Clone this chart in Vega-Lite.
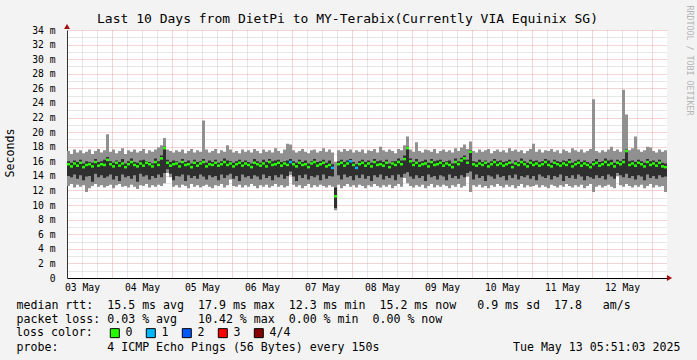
{
"$schema": "https://vega.github.io/schema/vega-lite/v6.json",
"width": 600, "height": 248,
"autosize": {"type": "none"},
"padding": {"left": 67, "top": 30, "right": 30, "bottom": 82},
"background": "#f3f3f3",
"config": {
 "font": "DejaVu Sans Mono",
 "view": {"fill": "#ffffff", "stroke": null},
 "axis": {"labelFontSize": 9.7, "labelColor": "#000000", "titleFontSize": 11.6, "titleFontWeight": "normal", "titleColor": "#000000", "ticks": false, "labelFlush": false, "labelOverlap": false, "labelBound": false}
},
"title": {"text": "Last 10 Days from DietPi to MY-Terabix(Currently VIA Equinix SG)", "font": "DejaVu Sans Mono", "fontSize": 13, "fontWeight": "normal", "color": "#000000", "anchor": "middle", "frame": "group", "dx": -19.5, "dy": 25, "offset": 4},
"data": {"values": [
{"i":0,"lo":12.6,"dl":14.0,"m":15.6,"dh":16.0,"hi":17.4,"c":"0"},
{"i":1,"lo":12.9,"dl":13.8,"m":15.3,"dh":15.8,"hi":17.0,"c":"0"},
{"i":2,"lo":12.4,"dl":14.2,"m":15.7,"dh":16.1,"hi":17.6,"c":"0"},
{"i":3,"lo":12.8,"dl":13.6,"m":15.4,"dh":15.9,"hi":17.2,"c":"0"},
{"i":4,"lo":12.5,"dl":14.1,"m":15.8,"dh":16.2,"hi":17.5,"c":"0"},
{"i":5,"lo":12.7,"dl":13.4,"m":15.2,"dh":15.7,"hi":17.1,"c":"0"},
{"i":6,"lo":11.8,"dl":13.9,"m":15.5,"dh":16.0,"hi":17.3,"c":"0"},
{"i":7,"lo":12.3,"dl":14.0,"m":15.6,"dh":15.9,"hi":17.6,"c":"0"},
{"i":8,"lo":12.6,"dl":13.2,"m":15.3,"dh":15.8,"hi":17.0,"c":"0"},
{"i":9,"lo":12.9,"dl":14.3,"m":15.9,"dh":16.3,"hi":17.4,"c":"0"},
{"i":10,"lo":12.5,"dl":13.8,"m":15.4,"dh":15.9,"hi":17.7,"c":"0"},
{"i":11,"lo":12.7,"dl":14.1,"m":15.6,"dh":16.0,"hi":17.2,"c":"0"},
{"i":12,"lo":12.4,"dl":13.7,"m":15.5,"dh":16.2,"hi":17.5,"c":"0"},
{"i":13,"lo":12.6,"dl":13.9,"m":16.2,"dh":16.6,"hi":19.7,"c":"0"},
{"i":14,"lo":12.8,"dl":14.2,"m":15.6,"dh":16.0,"hi":17.3,"c":"0"},
{"i":15,"lo":12.3,"dl":13.5,"m":15.3,"dh":15.8,"hi":17.6,"c":"0"},
{"i":16,"lo":12.7,"dl":14.0,"m":15.8,"dh":16.1,"hi":17.1,"c":"0"},
{"i":17,"lo":12.9,"dl":13.3,"m":15.4,"dh":15.9,"hi":17.4,"c":"0"},
{"i":18,"lo":12.5,"dl":14.2,"m":15.7,"dh":16.3,"hi":17.8,"c":"0"},
{"i":19,"lo":12.6,"dl":13.8,"m":15.2,"dh":15.7,"hi":17.0,"c":"0"},
{"i":20,"lo":12.4,"dl":14.0,"m":15.6,"dh":16.0,"hi":17.5,"c":"0"},
{"i":21,"lo":12.8,"dl":13.6,"m":15.9,"dh":16.4,"hi":17.3,"c":"0"},
{"i":22,"lo":12.5,"dl":14.1,"m":15.5,"dh":15.9,"hi":17.6,"c":"0"},
{"i":23,"lo":12.2,"dl":13.2,"m":15.3,"dh":15.8,"hi":17.2,"c":"0"},
{"i":24,"lo":12.7,"dl":14.3,"m":15.7,"dh":16.1,"hi":17.4,"c":"0"},
{"i":25,"lo":12.6,"dl":13.9,"m":15.4,"dh":16.2,"hi":17.7,"c":"0"},
{"i":26,"lo":12.9,"dl":14.1,"m":15.8,"dh":16.0,"hi":17.1,"c":"0"},
{"i":27,"lo":12.4,"dl":13.5,"m":15.6,"dh":15.9,"hi":17.5,"c":"0"},
{"i":28,"lo":12.7,"dl":14.0,"m":15.3,"dh":15.7,"hi":17.3,"c":"0"},
{"i":29,"lo":12.5,"dl":13.7,"m":15.9,"dh":16.4,"hi":17.6,"c":"0"},
{"i":30,"lo":12.8,"dl":14.2,"m":15.5,"dh":16.0,"hi":17.9,"c":"0"},
{"i":31,"lo":12.6,"dl":13.8,"m":16.4,"dh":16.8,"hi":18.2,"c":"0"},
{"i":32,"lo":13.0,"dl":14.4,"m":17.8,"dh":18.0,"hi":19.2,"c":"0"},
{"i":33,"lo":14.4,"dl":14.9,"m":15.8,"dh":16.2,"hi":17.6,"c":"0"},
{"i":34,"lo":13.8,"dl":14.3,"m":15.4,"dh":15.9,"hi":17.4,"c":"0"},
{"i":35,"lo":12.5,"dl":13.4,"m":15.6,"dh":16.1,"hi":17.2,"c":"0"},
{"i":36,"lo":12.7,"dl":14.0,"m":15.7,"dh":16.0,"hi":17.5,"c":"0"},
{"i":37,"lo":12.4,"dl":13.9,"m":15.3,"dh":15.8,"hi":17.3,"c":"0"},
{"i":38,"lo":12.8,"dl":14.2,"m":15.9,"dh":16.3,"hi":17.6,"c":"0"},
{"i":39,"lo":12.6,"dl":13.3,"m":15.5,"dh":15.9,"hi":17.1,"c":"0"},
{"i":40,"lo":12.3,"dl":14.1,"m":15.6,"dh":16.1,"hi":17.4,"c":"0"},
{"i":41,"lo":12.9,"dl":13.7,"m":15.2,"dh":15.7,"hi":17.7,"c":"0"},
{"i":42,"lo":12.5,"dl":14.0,"m":15.8,"dh":16.2,"hi":17.2,"c":"0"},
{"i":43,"lo":12.7,"dl":13.6,"m":15.4,"dh":15.9,"hi":17.5,"c":"0"},
{"i":44,"lo":12.4,"dl":14.2,"m":15.7,"dh":16.0,"hi":17.3,"c":"0"},
{"i":45,"lo":12.6,"dl":13.9,"m":15.9,"dh":16.3,"hi":21.6,"c":"0"},
{"i":46,"lo":12.8,"dl":13.5,"m":15.3,"dh":15.8,"hi":17.6,"c":"0"},
{"i":47,"lo":12.5,"dl":14.1,"m":15.6,"dh":16.1,"hi":17.2,"c":"0"},
{"i":48,"lo":12.3,"dl":13.8,"m":15.5,"dh":15.9,"hi":17.4,"c":"0"},
{"i":49,"lo":12.7,"dl":14.0,"m":15.8,"dh":16.2,"hi":17.7,"c":"0"},
{"i":50,"lo":12.6,"dl":13.4,"m":15.4,"dh":15.8,"hi":17.1,"c":"0"},
{"i":51,"lo":12.9,"dl":14.2,"m":15.6,"dh":16.0,"hi":17.5,"c":"0"},
{"i":52,"lo":12.4,"dl":13.7,"m":15.9,"dh":16.4,"hi":17.3,"c":"0"},
{"i":53,"lo":12.7,"dl":14.1,"m":15.5,"dh":16.1,"hi":18.2,"c":"0"},
{"i":54,"lo":13.5,"dl":14.3,"m":15.7,"dh":16.0,"hi":17.6,"c":"0"},
{"i":55,"lo":12.6,"dl":13.6,"m":15.3,"dh":15.8,"hi":17.2,"c":"0"},
{"i":56,"lo":12.5,"dl":14.0,"m":15.6,"dh":16.0,"hi":17.4,"c":"0"},
{"i":57,"lo":12.8,"dl":13.3,"m":15.8,"dh":16.2,"hi":17.1,"c":"0"},
{"i":58,"lo":12.4,"dl":14.2,"m":15.4,"dh":15.9,"hi":17.6,"c":"0"},
{"i":59,"lo":12.7,"dl":13.8,"m":15.7,"dh":16.1,"hi":17.3,"c":"0"},
{"i":60,"lo":12.5,"dl":14.0,"m":15.5,"dh":15.9,"hi":17.5,"c":"0"},
{"i":61,"lo":12.9,"dl":13.6,"m":15.2,"dh":15.7,"hi":17.2,"c":"0"},
{"i":62,"lo":12.6,"dl":14.1,"m":15.8,"dh":16.3,"hi":17.7,"c":"0"},
{"i":63,"lo":12.3,"dl":13.9,"m":15.6,"dh":16.0,"hi":17.4,"c":"0"},
{"i":64,"lo":12.7,"dl":13.5,"m":15.4,"dh":15.8,"hi":17.1,"c":"0"},
{"i":65,"lo":12.5,"dl":14.2,"m":15.7,"dh":16.2,"hi":17.6,"c":"0"},
{"i":66,"lo":12.8,"dl":13.7,"m":15.3,"dh":15.9,"hi":17.3,"c":"0"},
{"i":67,"lo":12.4,"dl":14.0,"m":15.9,"dh":16.3,"hi":17.5,"c":"0"},
{"i":68,"lo":12.6,"dl":13.4,"m":15.5,"dh":16.0,"hi":17.2,"c":"0"},
{"i":69,"lo":12.9,"dl":14.1,"m":15.6,"dh":16.1,"hi":17.8,"c":"0"},
{"i":70,"lo":12.5,"dl":13.8,"m":15.8,"dh":16.2,"hi":17.4,"c":"0"},
{"i":71,"lo":12.7,"dl":14.2,"m":15.4,"dh":15.9,"hi":17.1,"c":"0"},
{"i":72,"lo":12.4,"dl":13.6,"m":15.7,"dh":16.0,"hi":17.6,"c":"0"},
{"i":73,"lo":12.6,"dl":14.0,"m":15.5,"dh":16.1,"hi":18.4,"c":"0"},
{"i":74,"lo":14.1,"dl":14.6,"m":15.9,"dh":16.3,"hi":18.3,"c":"1"},
{"i":75,"lo":12.8,"dl":13.9,"m":15.6,"dh":16.0,"hi":17.5,"c":"0"},
{"i":76,"lo":12.5,"dl":13.3,"m":15.3,"dh":15.8,"hi":17.2,"c":"0"},
{"i":77,"lo":12.7,"dl":14.1,"m":15.8,"dh":16.2,"hi":17.4,"c":"0"},
{"i":78,"lo":12.3,"dl":13.7,"m":15.5,"dh":15.9,"hi":17.7,"c":"0"},
{"i":79,"lo":12.6,"dl":14.2,"m":15.6,"dh":16.1,"hi":17.3,"c":"0"},
{"i":80,"lo":12.9,"dl":13.5,"m":15.2,"dh":15.7,"hi":17.1,"c":"0"},
{"i":81,"lo":12.4,"dl":14.0,"m":15.7,"dh":16.0,"hi":17.5,"c":"0"},
{"i":82,"lo":12.7,"dl":13.8,"m":15.9,"dh":16.3,"hi":17.6,"c":"0"},
{"i":83,"lo":12.5,"dl":14.1,"m":15.4,"dh":15.9,"hi":17.2,"c":"0"},
{"i":84,"lo":12.8,"dl":13.4,"m":15.6,"dh":16.0,"hi":17.4,"c":"0"},
{"i":85,"lo":12.6,"dl":14.2,"m":15.8,"dh":16.2,"hi":17.8,"c":"0"},
{"i":86,"lo":12.4,"dl":13.6,"m":15.3,"dh":15.8,"hi":17.3,"c":"0"},
{"i":87,"lo":12.7,"dl":14.0,"m":15.5,"dh":16.1,"hi":17.6,"c":"0"},
{"i":88,"lo":12.5,"dl":13.9,"m":15.1,"dh":15.6,"hi":17.2,"c":"1"},
{"i":89,"lo":9.3,"dl":9.6,"m":11.2,"dh":12.4,"hi":15.9,"c":"0"},
{"i":90,"lo":12.8,"dl":14.1,"m":15.6,"dh":16.0,"hi":17.5,"c":"0"},
{"i":91,"lo":12.3,"dl":13.5,"m":15.8,"dh":16.2,"hi":17.3,"c":"0"},
{"i":92,"lo":12.6,"dl":14.2,"m":15.4,"dh":15.9,"hi":17.7,"c":"0"},
{"i":93,"lo":12.9,"dl":13.8,"m":15.7,"dh":16.1,"hi":17.4,"c":"0"},
{"i":94,"lo":12.5,"dl":14.0,"m":16.0,"dh":16.3,"hi":17.6,"c":"1"},
{"i":95,"lo":12.7,"dl":13.4,"m":15.5,"dh":15.9,"hi":17.2,"c":"0"},
{"i":96,"lo":12.4,"dl":14.1,"m":15.1,"dh":15.6,"hi":17.5,"c":"1"},
{"i":97,"lo":12.8,"dl":13.7,"m":15.6,"dh":16.0,"hi":17.3,"c":"0"},
{"i":98,"lo":12.6,"dl":14.2,"m":15.8,"dh":16.2,"hi":17.6,"c":"0"},
{"i":99,"lo":12.3,"dl":13.6,"m":15.4,"dh":15.9,"hi":17.1,"c":"0"},
{"i":100,"lo":12.7,"dl":14.0,"m":15.7,"dh":16.1,"hi":17.5,"c":"0"},
{"i":101,"lo":12.5,"dl":13.3,"m":15.3,"dh":15.8,"hi":17.4,"c":"0"},
{"i":102,"lo":12.9,"dl":14.1,"m":15.9,"dh":16.3,"hi":17.7,"c":"0"},
{"i":103,"lo":12.6,"dl":13.8,"m":15.5,"dh":16.0,"hi":17.2,"c":"0"},
{"i":104,"lo":12.4,"dl":14.2,"m":15.6,"dh":16.1,"hi":18.0,"c":"0"},
{"i":105,"lo":12.7,"dl":13.5,"m":15.4,"dh":15.9,"hi":17.5,"c":"0"},
{"i":106,"lo":12.5,"dl":14.0,"m":15.8,"dh":16.2,"hi":17.3,"c":"0"},
{"i":107,"lo":12.8,"dl":13.7,"m":15.2,"dh":15.7,"hi":17.6,"c":"0"},
{"i":108,"lo":12.3,"dl":14.1,"m":15.7,"dh":16.0,"hi":17.4,"c":"0"},
{"i":109,"lo":12.6,"dl":13.4,"m":15.5,"dh":16.0,"hi":17.1,"c":"0"},
{"i":110,"lo":12.9,"dl":14.2,"m":15.9,"dh":16.4,"hi":17.7,"c":"0"},
{"i":111,"lo":12.5,"dl":13.8,"m":15.6,"dh":16.1,"hi":17.5,"c":"0"},
{"i":112,"lo":13.7,"dl":14.3,"m":16.3,"dh":16.8,"hi":18.2,"c":"0"},
{"i":113,"lo":13.0,"dl":14.5,"m":17.8,"dh":18.0,"hi":19.4,"c":"0"},
{"i":114,"lo":12.6,"dl":13.9,"m":16.0,"dh":16.4,"hi":17.6,"c":"0"},
{"i":115,"lo":12.4,"dl":13.6,"m":15.5,"dh":15.9,"hi":17.3,"c":"0"},
{"i":116,"lo":12.7,"dl":14.1,"m":15.8,"dh":16.3,"hi":18.6,"c":"0"},
{"i":117,"lo":12.5,"dl":13.7,"m":15.4,"dh":15.9,"hi":17.4,"c":"0"},
{"i":118,"lo":12.8,"dl":14.0,"m":15.6,"dh":16.0,"hi":17.2,"c":"0"},
{"i":119,"lo":12.3,"dl":13.3,"m":15.7,"dh":16.2,"hi":17.6,"c":"0"},
{"i":120,"lo":12.6,"dl":14.2,"m":15.3,"dh":15.8,"hi":17.5,"c":"0"},
{"i":121,"lo":12.9,"dl":13.8,"m":15.9,"dh":16.3,"hi":17.3,"c":"0"},
{"i":122,"lo":12.4,"dl":14.0,"m":15.5,"dh":16.0,"hi":17.7,"c":"0"},
{"i":123,"lo":12.7,"dl":13.5,"m":15.6,"dh":16.1,"hi":17.1,"c":"0"},
{"i":124,"lo":12.5,"dl":14.1,"m":15.8,"dh":16.2,"hi":17.4,"c":"0"},
{"i":125,"lo":12.8,"dl":13.9,"m":15.4,"dh":15.9,"hi":17.6,"c":"0"},
{"i":126,"lo":12.6,"dl":13.4,"m":15.7,"dh":16.0,"hi":17.3,"c":"0"},
{"i":127,"lo":12.3,"dl":14.2,"m":15.5,"dh":16.1,"hi":17.5,"c":"0"},
{"i":128,"lo":12.7,"dl":13.7,"m":15.2,"dh":15.7,"hi":17.2,"c":"0"},
{"i":129,"lo":12.5,"dl":14.0,"m":15.9,"dh":16.4,"hi":17.8,"c":"0"},
{"i":130,"lo":12.9,"dl":13.6,"m":15.6,"dh":16.0,"hi":17.4,"c":"0"},
{"i":131,"lo":12.4,"dl":14.1,"m":16.1,"dh":16.5,"hi":17.9,"c":"0"},
{"i":132,"lo":12.6,"dl":13.8,"m":16.4,"dh":16.8,"hi":18.3,"c":"0"},
{"i":133,"lo":13.9,"dl":14.4,"m":15.8,"dh":16.2,"hi":17.7,"c":"0"},
{"i":134,"lo":11.8,"dl":14.6,"m":17.3,"dh":17.5,"hi":18.7,"c":"0"},
{"i":135,"lo":12.7,"dl":13.5,"m":15.6,"dh":16.0,"hi":17.4,"c":"0"},
{"i":136,"lo":12.5,"dl":14.2,"m":15.4,"dh":15.9,"hi":17.2,"c":"0"},
{"i":137,"lo":12.8,"dl":13.7,"m":15.7,"dh":16.2,"hi":17.6,"c":"0"},
{"i":138,"lo":12.4,"dl":14.0,"m":15.5,"dh":15.9,"hi":17.3,"c":"0"},
{"i":139,"lo":12.6,"dl":13.3,"m":15.8,"dh":16.1,"hi":17.5,"c":"0"},
{"i":140,"lo":12.3,"dl":14.1,"m":15.3,"dh":15.8,"hi":17.7,"c":"0"},
{"i":141,"lo":12.7,"dl":13.9,"m":15.6,"dh":16.0,"hi":17.1,"c":"0"},
{"i":142,"lo":12.5,"dl":13.6,"m":15.9,"dh":16.3,"hi":17.4,"c":"0"},
{"i":143,"lo":12.9,"dl":14.2,"m":15.5,"dh":16.0,"hi":17.6,"c":"0"},
{"i":144,"lo":12.6,"dl":13.8,"m":15.7,"dh":16.1,"hi":17.3,"c":"0"},
{"i":145,"lo":12.4,"dl":14.0,"m":15.4,"dh":15.9,"hi":17.5,"c":"0"},
{"i":146,"lo":12.8,"dl":13.4,"m":15.6,"dh":16.0,"hi":17.2,"c":"0"},
{"i":147,"lo":12.5,"dl":14.1,"m":15.8,"dh":16.2,"hi":17.8,"c":"0"},
{"i":148,"lo":12.7,"dl":13.7,"m":15.2,"dh":15.7,"hi":17.4,"c":"0"},
{"i":149,"lo":12.3,"dl":14.2,"m":15.7,"dh":16.1,"hi":17.6,"c":"0"},
{"i":150,"lo":12.6,"dl":13.5,"m":15.5,"dh":15.9,"hi":17.3,"c":"0"},
{"i":151,"lo":12.9,"dl":14.0,"m":15.9,"dh":16.4,"hi":17.5,"c":"0"},
{"i":152,"lo":12.4,"dl":13.8,"m":15.6,"dh":16.0,"hi":17.1,"c":"0"},
{"i":153,"lo":12.7,"dl":14.1,"m":15.3,"dh":15.8,"hi":17.4,"c":"0"},
{"i":154,"lo":12.5,"dl":13.6,"m":15.8,"dh":16.2,"hi":17.7,"c":"0"},
{"i":155,"lo":12.6,"dl":14.0,"m":15.5,"dh":16.0,"hi":18.4,"c":"0"},
{"i":156,"lo":12.8,"dl":13.4,"m":15.7,"dh":16.1,"hi":17.3,"c":"0"},
{"i":157,"lo":12.4,"dl":14.2,"m":15.4,"dh":15.9,"hi":17.6,"c":"0"},
{"i":158,"lo":12.7,"dl":13.9,"m":15.6,"dh":16.0,"hi":17.2,"c":"0"},
{"i":159,"lo":12.5,"dl":13.7,"m":15.9,"dh":16.3,"hi":17.5,"c":"0"},
{"i":160,"lo":12.3,"dl":14.1,"m":15.5,"dh":16.1,"hi":17.4,"c":"0"},
{"i":161,"lo":12.8,"dl":13.5,"m":15.3,"dh":15.8,"hi":17.7,"c":"0"},
{"i":162,"lo":12.6,"dl":14.0,"m":15.8,"dh":16.2,"hi":17.3,"c":"0"},
{"i":163,"lo":12.4,"dl":13.8,"m":15.6,"dh":16.0,"hi":17.5,"c":"0"},
{"i":164,"lo":12.7,"dl":14.2,"m":15.4,"dh":15.9,"hi":17.1,"c":"0"},
{"i":165,"lo":12.5,"dl":13.3,"m":15.7,"dh":16.1,"hi":17.6,"c":"0"},
{"i":166,"lo":12.9,"dl":14.0,"m":15.5,"dh":16.0,"hi":17.4,"c":"0"},
{"i":167,"lo":12.6,"dl":13.7,"m":15.9,"dh":16.3,"hi":17.2,"c":"0"},
{"i":168,"lo":12.4,"dl":14.1,"m":15.3,"dh":15.8,"hi":17.8,"c":"0"},
{"i":169,"lo":12.7,"dl":13.6,"m":15.6,"dh":16.0,"hi":17.5,"c":"0"},
{"i":170,"lo":12.5,"dl":14.2,"m":15.8,"dh":16.2,"hi":17.3,"c":"0"},
{"i":171,"lo":12.8,"dl":13.9,"m":15.4,"dh":15.9,"hi":17.6,"c":"0"},
{"i":172,"lo":12.3,"dl":13.4,"m":15.7,"dh":16.1,"hi":17.2,"c":"0"},
{"i":173,"lo":12.6,"dl":14.0,"m":15.5,"dh":15.9,"hi":17.4,"c":"0"},
{"i":174,"lo":12.9,"dl":13.8,"m":15.2,"dh":15.7,"hi":17.7,"c":"0"},
{"i":175,"lo":11.8,"dl":13.6,"m":15.6,"dh":16.0,"hi":24.5,"c":"0"},
{"i":176,"lo":12.5,"dl":14.1,"m":15.8,"dh":16.3,"hi":17.4,"c":"0"},
{"i":177,"lo":12.7,"dl":13.7,"m":15.4,"dh":15.9,"hi":17.2,"c":"0"},
{"i":178,"lo":12.4,"dl":14.0,"m":15.6,"dh":16.0,"hi":17.5,"c":"0"},
{"i":179,"lo":12.6,"dl":13.5,"m":15.9,"dh":16.4,"hi":17.3,"c":"0"},
{"i":180,"lo":12.8,"dl":14.2,"m":15.5,"dh":16.1,"hi":17.6,"c":"0"},
{"i":181,"lo":12.5,"dl":13.9,"m":15.7,"dh":16.2,"hi":18.0,"c":"0"},
{"i":182,"lo":12.3,"dl":13.6,"m":15.3,"dh":15.8,"hi":17.4,"c":"0"},
{"i":183,"lo":14.0,"dl":14.4,"m":15.8,"dh":16.2,"hi":17.6,"c":"0"},
{"i":184,"lo":12.7,"dl":14.1,"m":15.6,"dh":16.0,"hi":17.3,"c":"0"},
{"i":185,"lo":12.5,"dl":13.8,"m":15.9,"dh":16.3,"hi":25.8,"c":"0"},
{"i":186,"lo":12.9,"dl":14.3,"m":17.4,"dh":17.6,"hi":22.4,"c":"0"},
{"i":187,"lo":12.6,"dl":13.7,"m":15.5,"dh":16.0,"hi":17.5,"c":"0"},
{"i":188,"lo":12.4,"dl":14.0,"m":15.7,"dh":16.1,"hi":17.8,"c":"0"},
{"i":189,"lo":12.7,"dl":13.5,"m":15.4,"dh":15.9,"hi":19.4,"c":"0"},
{"i":190,"lo":12.5,"dl":14.1,"m":15.8,"dh":16.2,"hi":17.6,"c":"0"},
{"i":191,"lo":12.8,"dl":13.9,"m":15.6,"dh":16.0,"hi":17.3,"c":"0"},
{"i":192,"lo":12.3,"dl":13.4,"m":15.3,"dh":15.8,"hi":17.5,"c":"0"},
{"i":193,"lo":12.6,"dl":14.2,"m":15.9,"dh":16.3,"hi":18.0,"c":"0"},
{"i":194,"lo":12.9,"dl":13.7,"m":15.5,"dh":16.0,"hi":17.9,"c":"0"},
{"i":195,"lo":12.4,"dl":14.0,"m":15.7,"dh":16.1,"hi":17.4,"c":"0"},
{"i":196,"lo":12.7,"dl":13.6,"m":15.4,"dh":15.9,"hi":17.2,"c":"0"},
{"i":197,"lo":12.5,"dl":14.1,"m":15.8,"dh":16.2,"hi":17.6,"c":"0"},
{"i":198,"lo":12.6,"dl":13.8,"m":15.3,"dh":15.8,"hi":17.3,"c":"0"},
{"i":199,"lo":11.8,"dl":13.9,"m":15.2,"dh":15.7,"hi":17.5,"c":"0"},
{"i":200,"lo":11.8,"dl":13.9,"m":15.2,"dh":15.7,"hi":17.5,"c":"0"}
]},
"layer": [
 {
  "mark": {"type": "area", "interpolate": "step-after", "color": "#909090"},
  "encoding": {
   "x": {"field": "i", "type": "quantitative", "scale": {"domain": [0, 200], "nice": false, "zero": false},
    "axis": {"orient": "bottom", "values": [5,10,20,25,30,40,45,50,60,65,70,80,85,90,100,105,110,120,125,130,140,145,150,160,165,170,180,185,190], "labels": false, "domain": false, "grid": true, "gridColor": "#cfcfcf", "gridDash": [1, 1], "gridWidth": 1,
     "title": "Tue May 13 05:51:03 2025", "titleX": 613, "titleY": 72, "titleAlign": "right", "titleBaseline": "alphabetic"}},
   "y": {"field": "lo", "type": "quantitative", "scale": {"domain": [0, 34], "nice": false},
    "axis": {"orient": "left", "values": [1,3,5,7,9,11,13,15,17,19,21,23,25,27,29,31,33], "labels": false, "domain": false, "grid": true, "gridColor": "#cfcfcf", "gridDash": [1, 1], "title": null}},
   "y2": {"field": "hi"}
  }
 },
 {
  "mark": {"type": "area", "interpolate": "step-after", "color": "#2f2f2f"},
  "encoding": {
   "x": {"field": "i", "type": "quantitative", "scale": {"domain": [0, 200], "nice": false, "zero": false},
    "axis": {"orient": "bottom", "values": [15,35,55,75,95,115,135,155,175,195], "labels": false, "domain": false, "grid": true, "gridColor": "#d04040", "gridOpacity": 0.45, "gridDash": [1, 1],
     "title": "probe: \u00a0\u00a0\u00a0\u00a0\u00a0\u00a04 ICMP Echo Pings (56 Bytes) every 150s", "titleX": -51, "titleY": 72, "titleAlign": "left", "titleBaseline": "alphabetic"}},
   "y": {"field": "dl", "type": "quantitative", "scale": {"domain": [0, 34], "nice": false},
    "axis": {"orient": "right", "labels": false, "domain": false, "grid": false,
     "title": "RRDTOOL / TOBI OETIKER", "titleAngle": 90, "titleX": 21.5, "titleY": -25, "titleAlign": "left", "titleBaseline": "middle", "titleFontSize": 8.3, "titleColor": "#b4b4b4"}},
   "y2": {"field": "dh"}
  }
 },
 {
  "mark": {"type": "tick", "orient": "horizontal", "size": 3, "thickness": 2.5, "xOffset": 1.5, "opacity": 1, "clip": true},
  "encoding": {
   "x": {"field": "i", "type": "quantitative", "scale": {"domain": [0, 200], "nice": false, "zero": false},
    "axis": {"orient": "bottom", "values": [5,25,45,65,85,105,125,145,165,185], "labelExpr": "timeFormat(time(datetime(2025, 4, 3, 5, 51, 3)) + datum.value * 4320000, '%d %b')", "labelPadding": 4, "domain": true, "domainColor": "#000000", "grid": false,
     "title": ["median rtt: \u00a015.5 ms avg \u00a017.9 ms max \u00a012.3 ms min \u00a015.2 ms now \u00a0\u00a00.9 ms sd \u00a017.8 \u00a0\u00a0am/s", "packet loss: 0.03 % avg \u00a0\u00a010.42 % max \u00a00.00 % min \u00a00.00 % now"],
     "titleX": -51, "titleY": 30.3, "titleAlign": "left", "titleBaseline": "alphabetic", "titleLineHeight": 14}},
   "y": {"field": "m", "type": "quantitative", "scale": {"domain": [0, 34], "nice": false},
    "axis": {"orient": "left", "values": [0,2,4,6,8,10,12,14,16,18,20,22,24,26,28,30,32,34], "labelExpr": "datum.value == 0 ? '0\u00a0' : datum.value + ' m'", "labelPadding": 12, "domain": true, "domainColor": "#333333", "grid": true,
     "gridColor": {"condition": {"test": "datum.value == 0", "value": "transparent"}, "value": "#d04040"}, "gridOpacity": 0.45, "gridDash": [1, 1],
     "title": "Seconds", "titleAngle": 270, "titleX": -56.5, "titleY": 122.5, "titleAlign": "center", "titleBaseline": "middle"}},
   "color": {"field": "c", "type": "nominal",
    "scale": {"domain": ["0", "1", "2", "3", "4/4"], "range": ["#26ff00", "#00b8ff", "#0059ff", "#ff0000", "#860000"]},
    "legend": {"title": "loss color:", "orient": "none", "legendX": -51, "legendY": 297, "direction": "horizontal", "columns": 5, "titleOrient": "left", "symbolType": "square", "symbolSize": 81, "symbolStrokeColor": "#000000", "symbolStrokeWidth": 1, "symbolOpacity": 1, "labelFont": "DejaVu Sans Mono", "labelFontSize": 11.6, "labelColor": "#000000", "labelOffset": 5, "columnPadding": 11, "titleFont": "DejaVu Sans Mono", "titleFontSize": 11.6, "titleFontWeight": "normal", "titleColor": "#000000", "titlePadding": 16, "padding": 0}}
  }
 },
 {
  "data": {"values": [{}]},
  "mark": {"type": "point", "shape": "triangle-up", "filled": true, "color": "#a01010", "size": 36, "opacity": 1, "yOffset": -3.5},
  "encoding": {
   "x": {"datum": 0, "type": "quantitative", "axis": null},
   "y": {"datum": 34, "type": "quantitative", "axis": null}
  }
 },
 {
  "data": {"values": [{}]},
  "mark": {"type": "point", "shape": "triangle-right", "filled": true, "color": "#a01010", "size": 36, "opacity": 1, "xOffset": 2.5},
  "encoding": {
   "x": {"datum": 200, "type": "quantitative", "axis": null},
   "y": {"datum": 0, "type": "quantitative", "axis": null}
  }
 }
],
"resolve": {"axis": {"x": "independent", "y": "independent"}}
}
